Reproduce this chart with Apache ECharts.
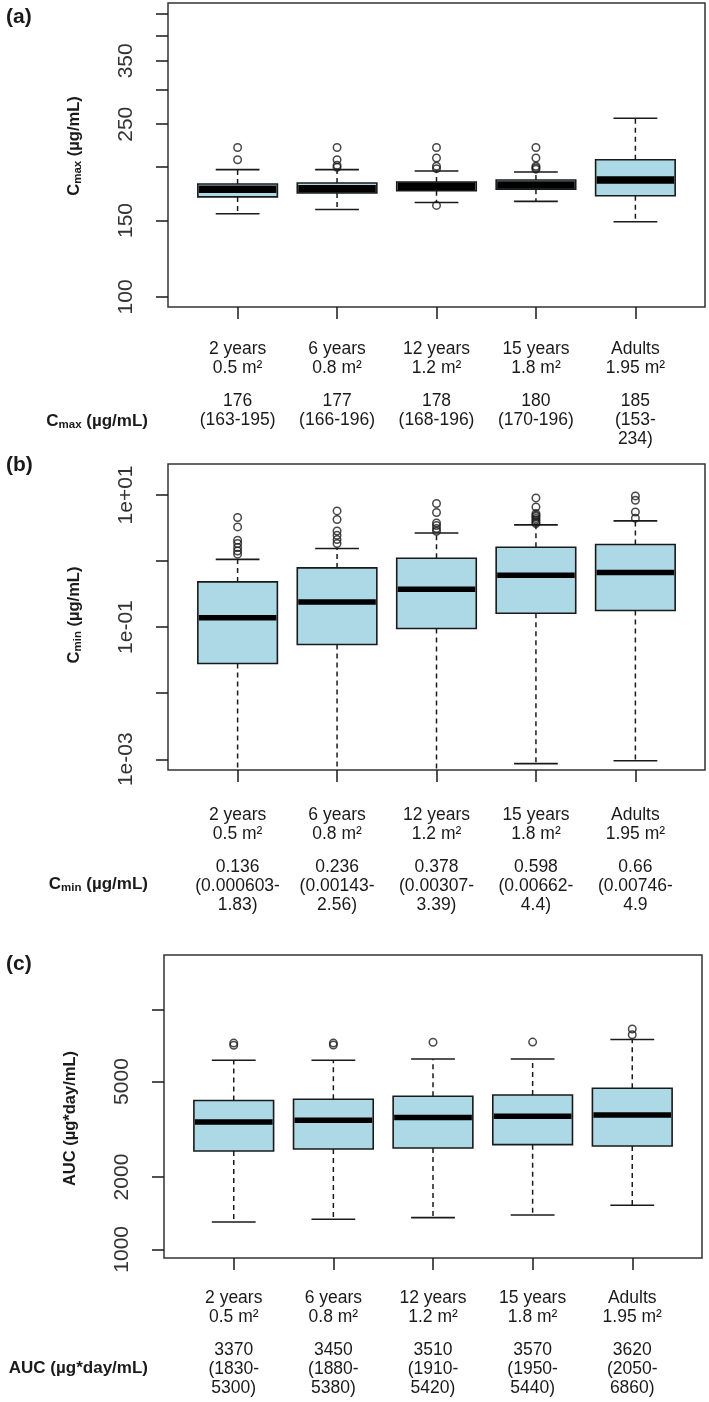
<!DOCTYPE html>
<html><head><meta charset="utf-8">
<script src="https://cdn.jsdelivr.net/npm/echarts@6/dist/echarts.min.js"></script>
<style>html,body{margin:0;padding:0;background:#fff}#c{width:709px;height:1402px}</style>
</head><body><div id="c"></div>
<script>
// ---------- data ----------
const categories = ['2 years', '6 years', '12 years', '15 years', 'Adults'];
const bsaLabels = ['0.5 m²', '0.8 m²', '1.2 m²', '1.8 m²', '1.95 m²'];

// box stats: [min(whisker), Q1, median, Q3, max(whisker)]
const cmaxBoxes = [
  [155.5, 170, 177, 182, 196.5],
  [159, 173.6, 177.5, 183, 196.5],
  [165, 175.7, 180, 184, 195],
  [166, 177, 181, 186, 194],
  [149, 171, 186, 207, 258]
];
const cmaxOutliers = [
  [207, 221],
  [199, 201, 207, 221],
  [162.5, 197.5, 200, 209, 221],
  [197, 198.5, 200, 209, 221],
  []
];
const cmaxTicks = [100, 150, 200, 250, 300, 350, 400, 450];
const cmaxTickLabels = [100, 150, 250, 350];
const cmaxSummary = [
  ['176', '(163-195)'],
  ['177', '(166-196)'],
  ['178', '(168-196)'],
  ['180', '(170-196)'],
  ['185', '(153-', '234)']
];

const cminBoxes = [
  [0.00001, 0.0281, 0.138, 0.483, 1.06],
  [0.00003, 0.0546, 0.240, 0.787, 1.55],
  [0.00008, 0.0953, 0.374, 1.10, 2.66],
  [0.00086, 0.162, 0.609, 1.62, 3.52],
  [0.00095, 0.178, 0.67, 1.78, 4.05]
];
const cminOutliers = [
  [1.27, 1.42, 1.6, 1.84, 2.07, 3.28, 4.55],
  [1.84, 2.11, 2.45, 2.85, 4.25, 5.73],
  [2.82, 3.1, 3.44, 3.77, 5.42, 7.41],
  [3.69, 3.9, 4.15, 4.4, 4.7, 4.95, 5.22, 6.58, 9.02],
  [4.45, 5.53, 8.32, 9.66]
];
const cminTicks = [0.001, 0.01, 0.1, 1, 10];
const cminTickLabels = [0.001, 0.1, 10];
const cminSummary = [
  ['0.136', '(0.000603-', '1.83)'],
  ['0.236', '(0.00143-', '2.56)'],
  ['0.378', '(0.00307-', '3.39)'],
  ['0.598', '(0.00662-', '4.4)'],
  ['0.66', '(0.00746-', '4.9']
];

const aucBoxes = [
  [1300, 2568, 3390, 4170, 6130],
  [1334, 2618, 3447, 4217, 6130],
  [1355, 2642, 3540, 4340, 6210],
  [1390, 2729, 3582, 4397, 6210],
  [1525, 2693, 3628, 4688, 7485]
];
const aucOutliers = [
  [7080, 7230],
  [7100, 7230],
  [7290],
  [7300],
  [7830, 8280]
];
const aucTicks = [1000, 2000, 5000, 10000];
const aucTickLabels = [1000, 2000, 5000];
const aucSummary = [
  ['3370', '(1830-', '5300)'],
  ['3450', '(1880-', '5380)'],
  ['3510', '(1910-', '5420)'],
  ['3570', '(1950-', '5440)'],
  ['3620', '(2050-', '6860)']
];

// ---------- helpers ----------
const FONT = "'Liberation Sans', Arial, sans-serif";
const INK = '#1a1a1a';
const positions = categories.map((_, i) => i + 1);

function boxSeries(stats, gi, medianWidth) {
  return {
    type: 'custom', xAxisIndex: gi, yAxisIndex: gi, clip: true, z: 3,
    data: stats.map((s, i) => [i + 1].concat(s)),
    encode: { x: 0, y: [1, 2, 3, 4, 5] },
    renderItem: function (params, api) {
      const x = api.value(0);
      const v = [1, 2, 3, 4, 5].map(k => api.value(k));
      const cx = api.coord([x, v[2]])[0];
      const xl = api.coord([x - 0.4, v[2]])[0], xr = api.coord([x + 0.4, v[2]])[0];
      const cl = api.coord([x - 0.22, v[2]])[0], cr = api.coord([x + 0.22, v[2]])[0];
      const y = v.map(val => api.coord([x, val])[1]);
      const dash = { stroke: INK, lineWidth: 1.5, lineDash: [5, 4], fill: null };
      const solid = { stroke: INK, lineWidth: 1.6, fill: null };
      return {
        type: 'group', children: [
          { type: 'line', shape: { x1: cx, y1: y[3], x2: cx, y2: y[4] }, style: dash },
          { type: 'line', shape: { x1: cx, y1: y[1], x2: cx, y2: y[0] }, style: dash },
          { type: 'line', shape: { x1: cl, y1: y[4], x2: cr, y2: y[4] }, style: solid },
          { type: 'line', shape: { x1: cl, y1: y[0], x2: cr, y2: y[0] }, style: solid },
          { type: 'rect', shape: { x: xl, y: y[3], width: xr - xl, height: y[1] - y[3] },
            style: { fill: '#ADD8E6', stroke: INK, lineWidth: 1.6 } },
          { type: 'line', shape: { x1: xl + 1, y1: y[2], x2: xr - 1, y2: y[2] },
            style: { stroke: '#000', lineWidth: medianWidth } }
        ]
      };
    }
  };
}

function outlierSeries(outs, gi) {
  const pts = [];
  outs.forEach((arr, i) => arr.forEach(v => pts.push([i + 1, v])));
  return {
    type: 'scatter', xAxisIndex: gi, yAxisIndex: gi, z: 4,
    symbol: 'circle', symbolSize: 7.5,
    itemStyle: { color: 'rgba(0,0,0,0)', borderColor: INK, borderWidth: 1.5 },
    data: pts
  };
}

function xAxisFor(gi, summary, margin) {
  return {
    type: 'value', gridIndex: gi, min: 0.3, max: 5.7,
    axisLine: { show: false }, splitLine: { show: false },
    axisTick: { show: true, customValues: positions, length: 12, lineStyle: { color: INK, width: 1.5 } },
    axisLabel: {
      show: true, customValues: positions, margin: margin,
      formatter: function (val) {
        const i = Math.round(val) - 1;
        const s = summary[i];
        const lines = ['{c|' + categories[i] + '}', '{c|' + bsaLabels[i] + '}', '{v1|' + s[0] + '}'];
        for (let k = 1; k < s.length; k++) lines.push('{c|' + s[k] + '}');
        return lines.join('\n');
      },
      rich: {
        c: { fontFamily: FONT, fontSize: 17.5, lineHeight: 19, color: INK, align: 'center' },
        v1: { fontFamily: FONT, fontSize: 17.5, lineHeight: 33, color: INK, align: 'center', verticalAlign: 'bottom' }
      }
    }
  };
}

function yAxisFor(gi, min, max, ticks, labels, fmt, name, namePad) {
  return {
    type: 'log', logBase: 10, gridIndex: gi, min: min, max: max,
    axisLine: { show: false }, splitLine: { show: false },
    axisTick: { show: true, customValues: ticks, length: 12, lineStyle: { color: INK, width: 1.5 } },
    axisLabel: {
      show: true, customValues: labels, rotate: 90, margin: 31,
      fontFamily: FONT, fontSize: 21, color: '#333', formatter: fmt
    },
    name: name, nameLocation: 'middle', nameGap: 84, nameRotate: 90,
    nameTextStyle: {
      padding: namePad,
      rich: {
        b: { fontFamily: FONT, fontSize: 16.5, fontWeight: 'bold', color: INK, lineHeight: 20 },
        s: { fontFamily: FONT, fontSize: 11.5, fontWeight: 'bold', color: INK, lineHeight: 12, verticalAlign: 'bottom' }
      }
    }
  };
}

const intFmt = v => String(Math.round(v));
const sciFmt = v => {
  const e = Math.round(Math.log10(v));
  return '1e' + (e < 0 ? '-' : '+') + String(Math.abs(e)).padStart(2, '0');
};

const richRow = {
  b: { fontFamily: FONT, fontSize: 17, fontWeight: 'bold', fill: INK, lineHeight: 20 },
  s: { fontFamily: FONT, fontSize: 11.5, fontWeight: 'bold', fill: INK, lineHeight: 12, verticalAlign: 'bottom' }
};

function rowLabel(x, y, text) {
  return { type: 'text', x: x, y: y, style: { text: text, rich: richRow, align: 'right', verticalAlign: 'middle', fill: INK } };
}
function panelLabel(y, text) {
  return { type: 'text', x: 6, y: y, style: { text: text, font: "bold 21px 'Liberation Sans', Arial", fill: INK, verticalAlign: 'middle' } };
}

const gridStyle = { show: true, borderColor: '#333', borderWidth: 1.5, backgroundColor: 'transparent', containLabel: false };

const option = {
  animation: false,
  backgroundColor: '#fff',
  grid: [
    Object.assign({ left: 168, top: 3, width: 537, height: 304 }, gridStyle),
    Object.assign({ left: 168, top: 464, width: 537, height: 306 }, gridStyle),
    Object.assign({ left: 164, top: 955, width: 538, height: 303 }, gridStyle)
  ],
  xAxis: [
    xAxisFor(0, cmaxSummary, 32.5),
    xAxisFor(1, cminSummary, 35.5),
    xAxisFor(2, aucSummary, 30.5)
  ],
  yAxis: [
    yAxisFor(0, 94.8, 475.6, cmaxTicks, cmaxTickLabels, intFmt, '{b|C}{s|max}{b| (µg/mL)}', [0, 0, 0, 18]),
    yAxisFor(1, 0.000688, 29.4, cminTicks, cminTickLabels, sciFmt, '{b|C}{s|min}{b| (µg/mL)}', [0, 0, 0, 4]),
    yAxisFor(2, 920, 16830, aucTicks, aucTickLabels, intFmt, '{b|AUC (µg*day/mL)}', [0, 24, 0, 0])
  ],
  series: [
    boxSeries(cmaxBoxes, 0, 7.5), outlierSeries(cmaxOutliers, 0),
    boxSeries(cminBoxes, 1, 5.5), outlierSeries(cminOutliers, 1),
    boxSeries(aucBoxes, 2, 5.5), outlierSeries(aucOutliers, 2)
  ],
  graphic: [
    panelLabel(17, '(a)'),
    panelLabel(465, '(b)'),
    panelLabel(964, '(c)'),
    rowLabel(148, 421, '{b|C}{s|max}{b| (µg/mL)}'),
    rowLabel(148, 884, '{b|C}{s|min}{b| (µg/mL)}'),
    rowLabel(148, 1368, '{b|AUC (µg*day/mL)}')
  ]
};

const chart = echarts.init(document.getElementById('c'), null, { renderer: 'canvas' });
chart.setOption(option);
</script></body></html>
